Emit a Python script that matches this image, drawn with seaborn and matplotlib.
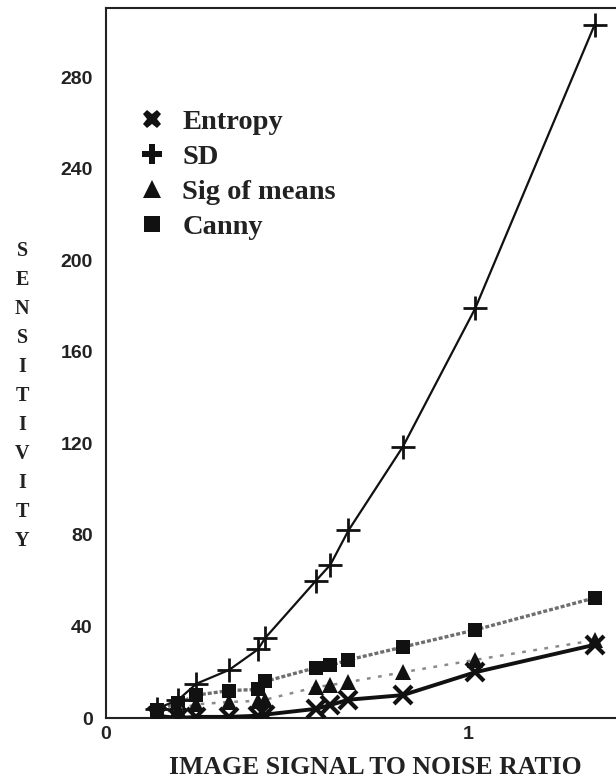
import pandas as pd
import seaborn as sns
import matplotlib.pyplot as plt
from matplotlib.lines import Line2D

# signal to noise levels and sensitivity
snr = [0.14, 0.20, 0.25, 0.34, 0.42, 0.44, 0.58, 0.62, 0.67, 0.82, 1.02, 1.35]
entropy = [1, 0, 0.5, 0.5, 1, 1.5, 4, 5.7, 8, 10, 20, 32]
sd = [4, 8, 15, 21, 30, 35, 60, 67, 82, 118.5, 179, 303]
sig_means = [2, 4, 6, 7, 7.5, 8, 13.5, 14.4, 15.7, 20, 25.4, 34]
canny = [3.5, 6.5, 10, 12, 12.5, 16, 22, 23, 25.4, 31, 38.5, 52.5]

methods = ["Entropy", "SD", "Sig of means", "Canny"]
yticks = [0, 40, 80, 120, 160, 200, 240, 280]

df = pd.DataFrame({
    "snr": snr * 4,
    "sensitivity": entropy + sd + sig_means + canny,
    "method": [m for m in methods for _ in snr],
})

sns.set_theme(style="white")
serif = ["Liberation Serif", "DejaVu Serif"]
sans = ["Liberation Sans", "DejaVu Sans"]

fig = plt.figure(figsize=(6.16, 7.83), dpi=100)
ax = fig.add_axes([0.172, 0.083, 0.828, 0.907])

# draw order: dotted/grey lines first, then the black ones on top
styles = {
    "Canny": dict(color="#6e6e6e", lw=2.4, ls=(0, (1.2, 0.6)), marker="s", ms=10),
    "Sig of means": dict(color="#8a8a8a", lw=1.8, ls=(0, (1.5, 3)), marker="^", ms=12),
    "Entropy": dict(color="#111111", lw=2.8, ls="-", marker="x", ms=13, mew=3),
    "SD": dict(color="#111111", lw=1.6, ls="-", marker="+", ms=17, mew=2),
}
for m, st in styles.items():
    sub = df[df["method"] == m]
    sns.lineplot(data=sub, x="snr", y="sensitivity", ax=ax, color=st["color"],
                 linewidth=st["lw"], linestyle=st["ls"], marker=st["marker"],
                 markersize=st["ms"], markeredgewidth=st.get("mew", 0),
                 markerfacecolor="#111111", markeredgecolor="#111111",
                 legend=False, zorder=3)

ax.set_xlim(0, 1.409)
ax.set_ylim(0, 310.4)
ax.set_xticks([0, 1])
ax.set_xticklabels(["0", "1"])
ax.set_yticks(yticks)
ax.set_yticklabels([str(v) for v in yticks])
ax.tick_params(length=0)
ax.tick_params(axis="y", pad=9.5)
ax.tick_params(axis="x", pad=6)
for lab in ax.get_xticklabels() + ax.get_yticklabels():
    lab.set_family(sans)
    lab.set_fontweight("bold")
    lab.set_fontsize(14)
    lab.set_color("#222222")

ax.set_xlabel("")
ax.set_ylabel("")
for side in ["left", "bottom", "top"]:
    ax.spines[side].set_color("#222222")
    ax.spines[side].set_linewidth(1.5)
ax.spines["right"].set_visible(False)

fig.text(0.609, 0.02, "IMAGE SIGNAL TO NOISE RATIO", ha="center", va="center",
         family=serif, fontweight="bold", fontsize=18.5, color="#222222")
fig.text(0.036, 0.494, "\n".join("SENSITIVITY"), ha="center", va="center",
         family=serif, fontweight="bold", fontsize=14.5, linespacing=1.6,
         color="#222222")

handles = [
    Line2D([], [], ls="none", marker="X", ms=13, color="#111111", mew=0),
    Line2D([], [], ls="none", marker="P", ms=15, color="#111111", mew=0),
    Line2D([], [], ls="none", marker="^", ms=13, color="#111111", mew=0),
    Line2D([], [], ls="none", marker="s", ms=12, color="#111111", mew=0),
]
leg = ax.legend(handles, methods, loc="upper left", bbox_to_anchor=(0.063, 0.857),
                frameon=False, borderpad=0, borderaxespad=0, handlelength=1,
                handletextpad=0.55, labelspacing=0.31,
                prop={"family": serif, "weight": "bold", "size": 20.5})
for t in leg.get_texts():
    t.set_color("#222222")

fig.savefig("out.png", dpi=100)
